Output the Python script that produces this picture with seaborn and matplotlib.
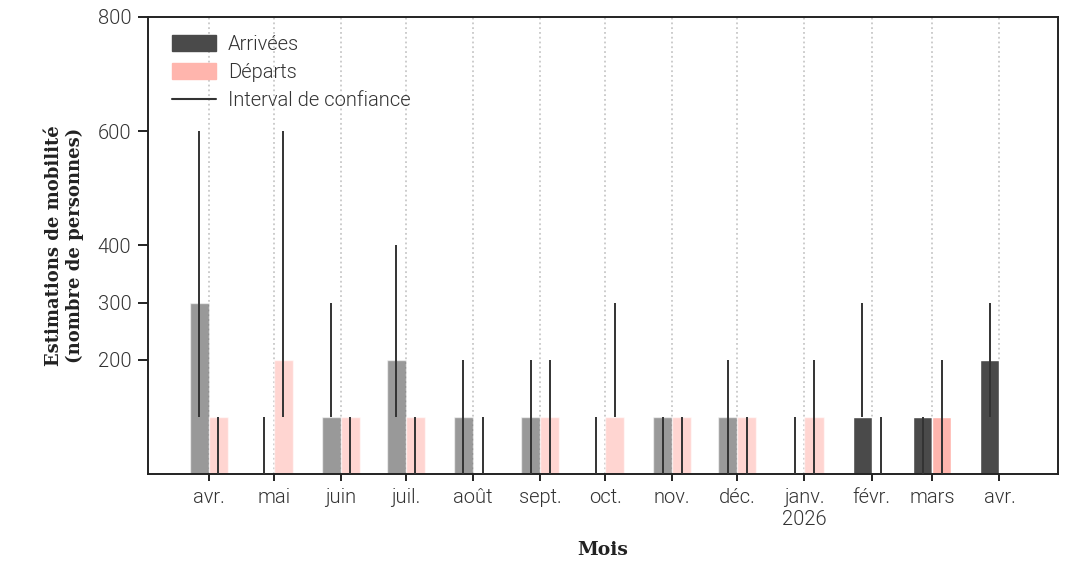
import matplotlib
matplotlib.use("Agg")
import matplotlib.pyplot as plt
import matplotlib.dates as mdates
from matplotlib.patches import Patch
from matplotlib.lines import Line2D
import numpy as np
import pandas as pd
import seaborn as sns

# mois (premier jour) et etiquettes
mois = pd.date_range("2025-04-01", "2026-04-01", freq="MS")
etiquettes = ["avr.", "mai", "juin", "juil.", "août", "sept.", "oct.",
              "nov.", "déc.", "janv.\n2026", "févr.", "mars", "avr."]

arrivees = [300, 0, 100, 200, 100, 100, 0, 100, 100, 0, 100, 100, 200]
arr_bas = [100, 0, 100, 100, 0, 0, 0, 0, 0, 0, 100, 0, 100]
arr_haut = [600, 100, 300, 400, 200, 200, 100, 100, 200, 100, 300, 100, 300]

departs = [100, 200, 100, 100, 0, 100, 100, 100, 100, 100, 0, 100, np.nan]
dep_bas = [0, 100, 0, 0, 0, 0, 100, 0, 0, 0, 0, 0, np.nan]
dep_haut = [100, 600, 100, 100, 100, 200, 300, 100, 100, 200, 100, 200, np.nan]

# les trois derniers mois en couleur pleine
definitif = [False] * 10 + [True] * 3

couleurs = {"Arrivées": "#4a4a4a", "Départs": "#ffb5ad"}

x_num = mdates.date2num(mois)
df = pd.DataFrame({
    "x": np.concatenate([x_num, x_num]),
    "valeur": arrivees + departs,
    "type": ["Arrivées"] * len(mois) + ["Départs"] * len(mois),
})

sns.set_style("ticks")
plt.rcParams['font.family'] = ['Roboto', 'DejaVu Sans']

fig = plt.figure(figsize=(10.69, 5.61), dpi=100)
ax = fig.add_axes([0.1384, 0.1551, 0.8513, 0.8146])

sns.barplot(data=df, x="x", y="valeur", hue="type",
            hue_order=["Arrivées", "Départs"], palette=couleurs,
            native_scale=True, width=0.63, errorbar=None, saturation=1,
            legend=False, ax=ax)

# intervalles de confiance au centre de chaque barre
for p in list(ax.patches):
    cx = p.get_x() + p.get_width() / 2
    i = int(np.argmin(np.abs(x_num - cx)))
    if cx < x_num[i]:
        lo, hi = arr_bas[i], arr_haut[i]
    else:
        lo, hi = dep_bas[i], dep_haut[i]
    if not definitif[i]:
        p.set_alpha(0.56)
    if not np.isnan(lo):
        ax.vlines(cx, lo, hi, color="#333333", lw=1.4, zorder=4)

ax.set_xticks(x_num)
ax.set_xticklabels(etiquettes)
ax.set_xlim(mdates.date2num(pd.Timestamp("2025-03-04")),
            mdates.date2num(pd.Timestamp("2026-04-28")))
ax.set_ylim(0, 800)
ax.set_yticks([200, 300, 400, 600, 800])

ax.xaxis.grid(True, linestyle=":", color="#c8c8c8", lw=1.3)
ax.yaxis.grid(False)

for s in ax.spines.values():
    s.set_linewidth(1.4)
    s.set_color("#222222")
ax.tick_params(axis="y", length=7, width=1.4, color="#222222", pad=5,
               labelsize=14.5, labelcolor="#333333")
ax.tick_params(axis="x", length=5, width=1.4, color="#222222", pad=5,
               labelsize=14.5, labelcolor="#333333")
for t in ax.get_xticklabels() + ax.get_yticklabels():
    t.set_fontweight(300)

ax.set_xlabel("Mois", family="DejaVu Serif", fontweight="bold",
              fontsize=13.5, color="#222222", labelpad=9)
ax.set_ylabel("Estimations de mobilité\n(nombre de personnes)",
              family="DejaVu Serif", fontweight="bold", fontsize=13,
              color="#222222", labelpad=10)

poignees = [Patch(color=couleurs["Arrivées"]),
            Patch(color=couleurs["Départs"]),
            Line2D([], [], color="#333333", lw=1.5)]
leg = ax.legend(poignees, ["Arrivées", "Départs", "Interval de confiance"],
                loc="upper left", frameon=False, fontsize=14.5,
                handlelength=2.2, handleheight=0.85, labelspacing=0.45,
                handletextpad=0.6, bbox_to_anchor=(0.006, 1.0))
for t in leg.get_texts():
    t.set_color("#333333")
    t.set_fontweight(300)

plt.savefig("out.png", dpi=100)
